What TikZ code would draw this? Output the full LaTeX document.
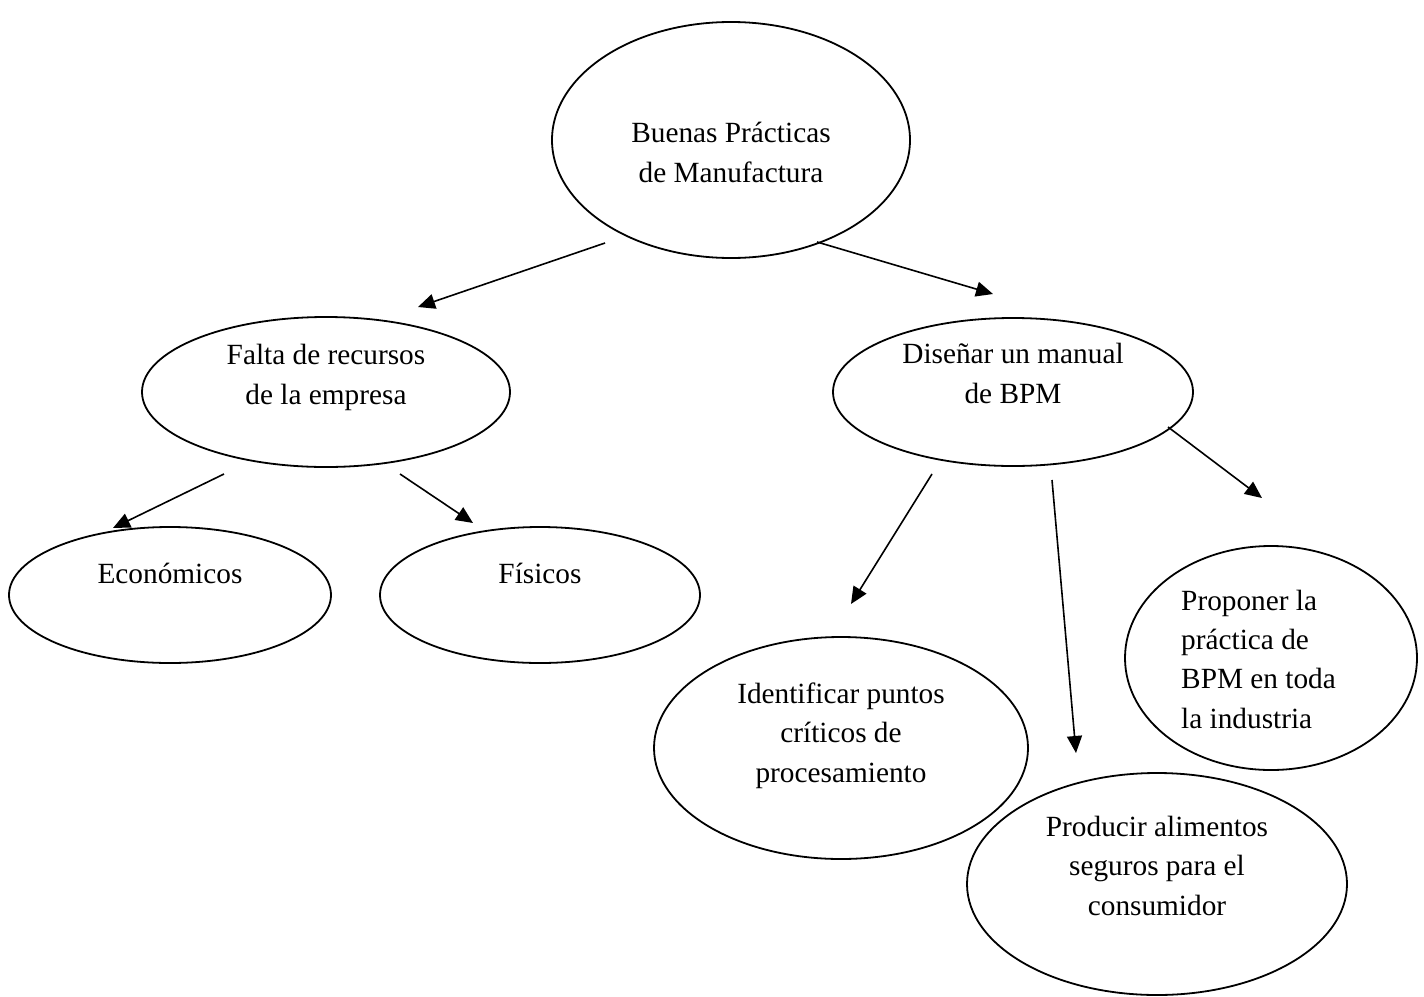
\documentclass[tikz,border=0pt]{standalone}
\usepackage{fontspec}
\setmainfont{Liberation Serif}
\usetikzlibrary{shapes.geometric,arrows.meta}

\tikzset{
  bubble/.style={draw=black, line width=1.8pt, ellipse, inner sep=0pt},
  label text/.style={inner sep=0pt, font=\fontsize{29.3}{39.3}\selectfont, align=center, anchor=base},
  link/.style={line width=1.6pt, -{Triangle[length=17pt,width=15pt]}}
}

\begin{document}
\begin{tikzpicture}[x=1pt, y=-1pt]
  \useasboundingbox (0,0) rectangle (1424,996);

  % ellipses
  \node[bubble, minimum width=358pt, minimum height=236pt] (bpm)  at (731,140) {};
  \node[bubble, minimum width=368pt, minimum height=150pt] (falta) at (326,392) {};
  \node[bubble, minimum width=360pt, minimum height=148pt] (dis)  at (1013,392) {};
  \node[bubble, minimum width=322pt, minimum height=136pt] (eco)  at (170,595) {};
  \node[bubble, minimum width=320pt, minimum height=136pt] (fis)  at (540,595) {};
  \node[bubble, minimum width=374pt, minimum height=222pt] (ide)  at (841,748) {};
  \node[bubble, minimum width=380pt, minimum height=222pt] (pro)  at (1157,884) {};
  \node[bubble, minimum width=292pt, minimum height=224pt] (prp)  at (1271,658) {};

  % texts (anchored on the baseline of the last line)
  \node[label text] (tbpm) at (731,182) {Buenas Prácticas\\de Manufactura};
  \node[label text] (tfalta) at (326,404) {Falta de recursos\\de la empresa};
  \node[label text] (tdis) at (1013,403) {Diseñar un manual\\de BPM};
  \node[label text] (teco) at (170,583) {Económicos};
  \node[label text] (tfis) at (540,583) {Físicos};
  \node[label text] (tide) at (841,782) {Identificar puntos\\críticos de\\procesamiento};
  \node[label text] (tpro) at (1157,915) {Producir alimentos\\seguros para el\\consumidor};
  \node[label text, align=left, anchor=base west] (tprp) at (1181,728) {Proponer la\\práctica de\\BPM en toda\\la industria};

  % arrow ends
  \coordinate (s1) at (605,243);  \coordinate (e1) at (418,307);
  \coordinate (s2) at (817,242);  \coordinate (e2) at (993,294);
  \coordinate (s3) at (224,474);  \coordinate (e3) at (113,528);
  \coordinate (s4) at (400,474);  \coordinate (e4) at (473,523);
  \coordinate (s5) at (932,474);  \coordinate (e5) at (851,604);
  \coordinate (s6) at (1052,480); \coordinate (e6) at (1076,753);
  \coordinate (s7) at (1168,427); \coordinate (e7) at (1262,498);

  \foreach \i in {1,...,7} \draw[link] (s\i) -- (e\i);
\end{tikzpicture}
\end{document}
